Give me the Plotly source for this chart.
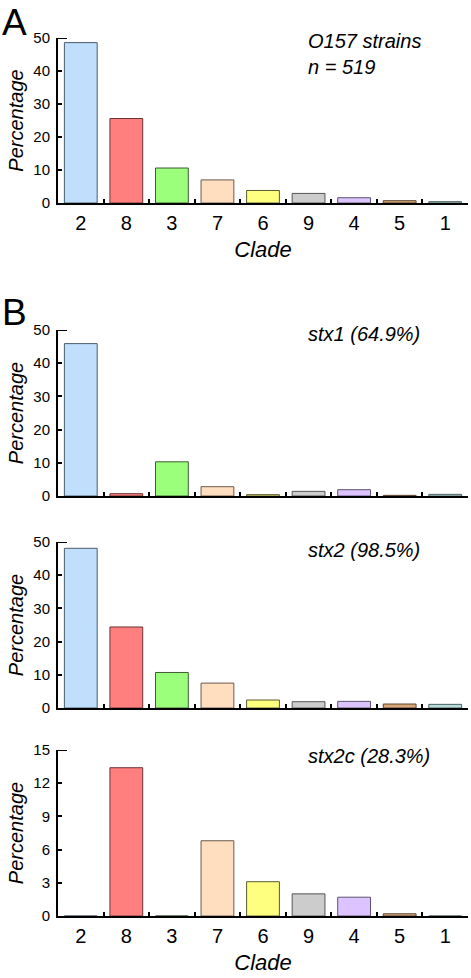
import plotly.graph_objects as go

clades = ["2", "8", "3", "7", "6", "9", "4", "5", "1"]
all_strains = [48.6, 25.6, 10.6, 7.0, 3.8, 2.9, 1.6, 0.7, 0.4]
stx1 = [45.9, 0.7, 10.3, 2.8, 0.4, 1.4, 1.9, 0.2, 0.5]
stx2 = [48.1, 24.4, 10.7, 7.5, 2.4, 1.9, 2.0, 1.2, 1.1]
stx2c = [0, 13.4, 0, 6.8, 3.1, 2.0, 1.7, 0.2, 0]

panel_labels = ["O157 strains<br>n = 519", "stx1 (64.9%)", "stx2 (98.5%)", "stx2c (28.3%)"]
y_ranges = [[0, 50], [0, 50], [0, 50], [0, 15]]
y_ticks = [[0, 10, 20, 30, 40, 50]] * 3 + [[0, 3, 6, 9, 12, 15]]

fills = ["#BFDFFD", "#FF7F7F", "#9CFF7C", "#FFDDBF", "#FFFF7F",
         "#CCCCCC", "#DDC3FF", "#D8A878", "#B8DCDC"]
outlines = ["#4C5C6C", "#6A3434", "#3E5A34", "#6A5A4C", "#5A5A34",
            "#555555", "#5C5470", "#5A4430", "#4C6060"]

W, H = 471, 978
FONT = "Liberation Sans, Arial, sans-serif"
x0, x1 = 58 / W, 468 / W
# pixel tops/bottoms of each plotting area
px = [(38, 203), (330, 496), (542, 708), (750, 916)]
domains = [[1 - b / H, 1 - t / H] for t, b in px]

series = [all_strains, stx1, stx2, stx2c]

fig = go.Figure()
for i, vals in enumerate(series):
    sfx = "" if i == 0 else str(i + 1)
    fig.add_trace(go.Bar(
        x=clades, y=vals,
        xaxis="x" + sfx, yaxis="y" + sfx,
        marker=dict(color=fills, line=dict(color=outlines, width=1)),
        width=0.72, showlegend=False, hoverinfo="skip",
    ))
    show_lbl = i in (0, 3)
    fig.layout["xaxis" + sfx] = dict(
        domain=[x0, x1], anchor="y" + sfx, type="category",
        categoryorder="array", categoryarray=clades, automargin=False,
        range=[-0.5, 8.5], showline=True, linecolor="black", linewidth=2,
        ticks="inside", tickson="boundaries", ticklen=4, tickwidth=2,
        tickcolor="black", showgrid=False, zeroline=False,
        showticklabels=show_lbl, ticklabelstandoff=1,
        tickfont=dict(family=FONT, size=20, color="black"),
        title=dict(text="<i>Clade</i>" if show_lbl else "",
                   font=dict(family=FONT, size=22, color="black"), standoff=9),
        fixedrange=True,
    )
    fig.layout["yaxis" + sfx] = dict(
        domain=domains[i], anchor="x" + sfx, range=y_ranges[i], automargin=False,
        tickvals=y_ticks[i], showline=True, linecolor="black", linewidth=2,
        ticks="inside", ticklen=4, tickwidth=2, tickcolor="black",
        showgrid=False, zeroline=False, ticklabelstandoff=3,
        tickfont=dict(family=FONT, size=15, color="black"),
        title=dict(text="<i>Percentage</i>",
                   font=dict(family=FONT, size=20, color="black"), standoff=4),
        fixedrange=True,
    )
    # longer top tick
    fig.add_shape(type="line", xref="x" + sfx + " domain", yref="y" + sfx,
                  x0=0, x1=9 / 410, y0=y_ranges[i][1], y1=y_ranges[i][1],
                  line=dict(color="black", width=2))

ann_y = [36, 329, 545, 751]
for i, txt in enumerate(panel_labels):
    fig.add_annotation(text="<i>" + txt + "</i>", xref="paper", yref="paper",
                       x=306 / W, y=1 - (ann_y[i] - 8) / H, xanchor="left",
                       yanchor="top", showarrow=False, align="left",
                       font=dict(family=FONT, size=20, color="black"))

for lbl, yt in (("A", 0), ("B", 290)):
    fig.add_annotation(text=lbl, xref="paper", yref="paper", x=14 / W,
                       y=1 - yt / H, xanchor="center", yanchor="top",
                       showarrow=False,
                       font=dict(family=FONT, size=37, color="black"))

fig.update_layout(
    width=W, height=H, margin=dict(l=0, r=0, t=0, b=0),
    paper_bgcolor="white", plot_bgcolor="white",
    bargap=0.28, font=dict(family=FONT, color="black"),
)
fig.write_html("out.html", config={"displayModeBar": False},
               post_script="document.body.style.margin='0';document.body.style.overflow='hidden';")
